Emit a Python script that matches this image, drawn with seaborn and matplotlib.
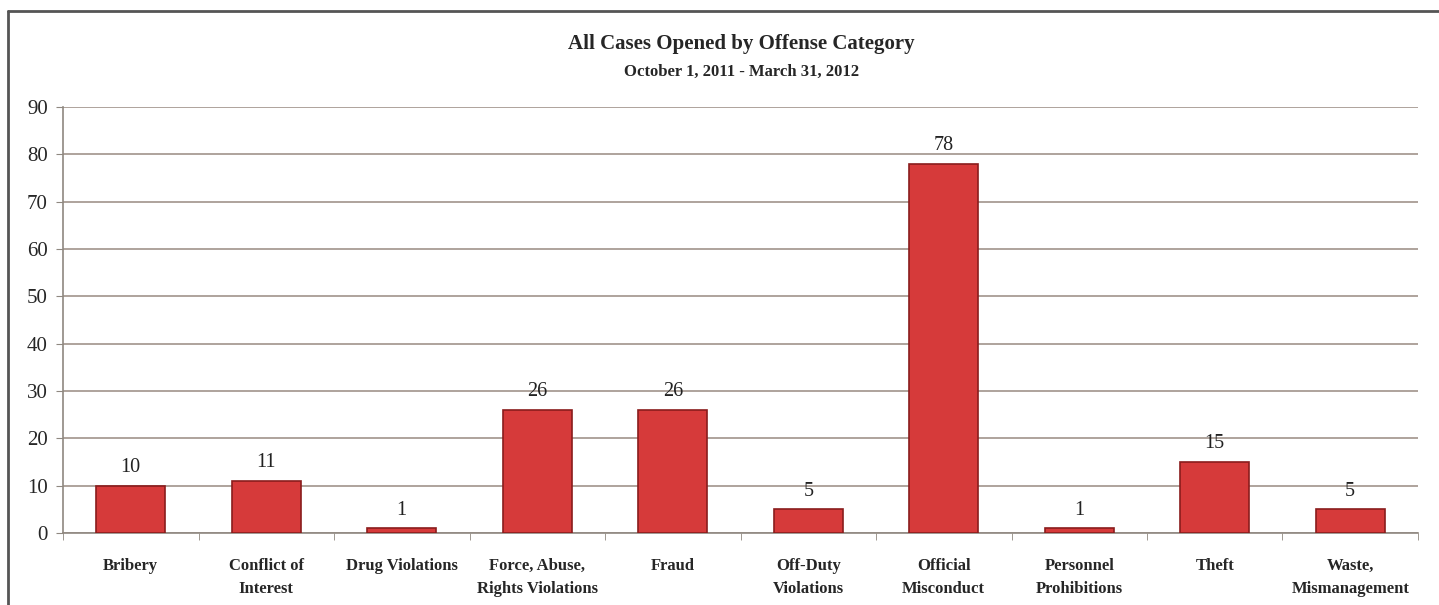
import matplotlib
matplotlib.use("Agg")
import matplotlib.pyplot as plt
import seaborn as sns
import pandas as pd
import numpy as np
from matplotlib.lines import Line2D

categories = ["Bribery", "Conflict of\nInterest", "Drug Violations", "Force, Abuse,\nRights Violations",
              "Fraud", "Off-Duty\nViolations", "Official\nMisconduct", "Personnel\nProhibitions",
              "Theft", "Waste,\nMismanagement"]
cases = [10, 11, 1, 26, 26, 5, 78, 1, 15, 5]

df = pd.DataFrame({"category": categories, "cases": cases})

sns.set_style("white")
plt.rcParams["font.family"] = ["Liberation Serif", "DejaVu Serif"]

fig = plt.figure(figsize=(14.39, 6.05), dpi=100)
ax = fig.add_axes([0.0438, 0.119, 0.9416, 0.704])

sns.barplot(data=df, x="category", y="cases", color="#d63a3a", width=0.51,
            edgecolor="#8a1c1c", linewidth=1.2, saturation=1, ax=ax, zorder=3)

# value labels above bars
for i, v in enumerate(cases):
    ax.text(i, v + 1.8, str(v), ha="center", va="bottom", fontsize=14.5, color="#222222")

ax.set_ylim(0, 90)
ax.set_xlim(-0.5, len(categories) - 0.5)
ax.set_yticks(range(0, 91, 10))
ax.yaxis.grid(True, color="#a89c94", linewidth=1.3, zorder=0)
ax.set_axisbelow(True)
ax.set_xlabel("")
ax.set_ylabel("")

for s in ["top", "right"]:
    ax.spines[s].set_visible(False)
for s in ["left", "bottom"]:
    ax.spines[s].set_color("#8f8880")
    ax.spines[s].set_linewidth(1.2)

ax.tick_params(axis="y", labelsize=15, length=5, color="#8f8880", pad=6, left=True)
ax.tick_params(axis="x", which="major", length=0, pad=18)
ax.set_xticks(np.arange(-0.5, len(categories)), minor=True)
ax.tick_params(axis="x", which="minor", length=5, color="#8f8880", bottom=True)
for lbl in ax.get_xticklabels():
    lbl.set_fontweight("bold")
    lbl.set_fontsize(12)
    lbl.set_va("top")
    lbl.set_linespacing(1.55)

fig.text(0.515, 0.928, "All Cases Opened by Offense Category", ha="center", va="center",
         fontsize=15, fontweight="bold")
fig.text(0.515, 0.882, "October 1, 2011 - March 31, 2012", ha="center", va="center",
         fontsize=12, fontweight="bold")

# frame: top and left edges only
fig.lines.append(Line2D([0.0055, 1.0], [0.982, 0.982], transform=fig.transFigure,
                        color="#555555", linewidth=2))
fig.lines.append(Line2D([0.0055, 0.0055], [0.0, 0.982], transform=fig.transFigure,
                        color="#555555", linewidth=2))

fig.savefig("out.png", dpi=100)
